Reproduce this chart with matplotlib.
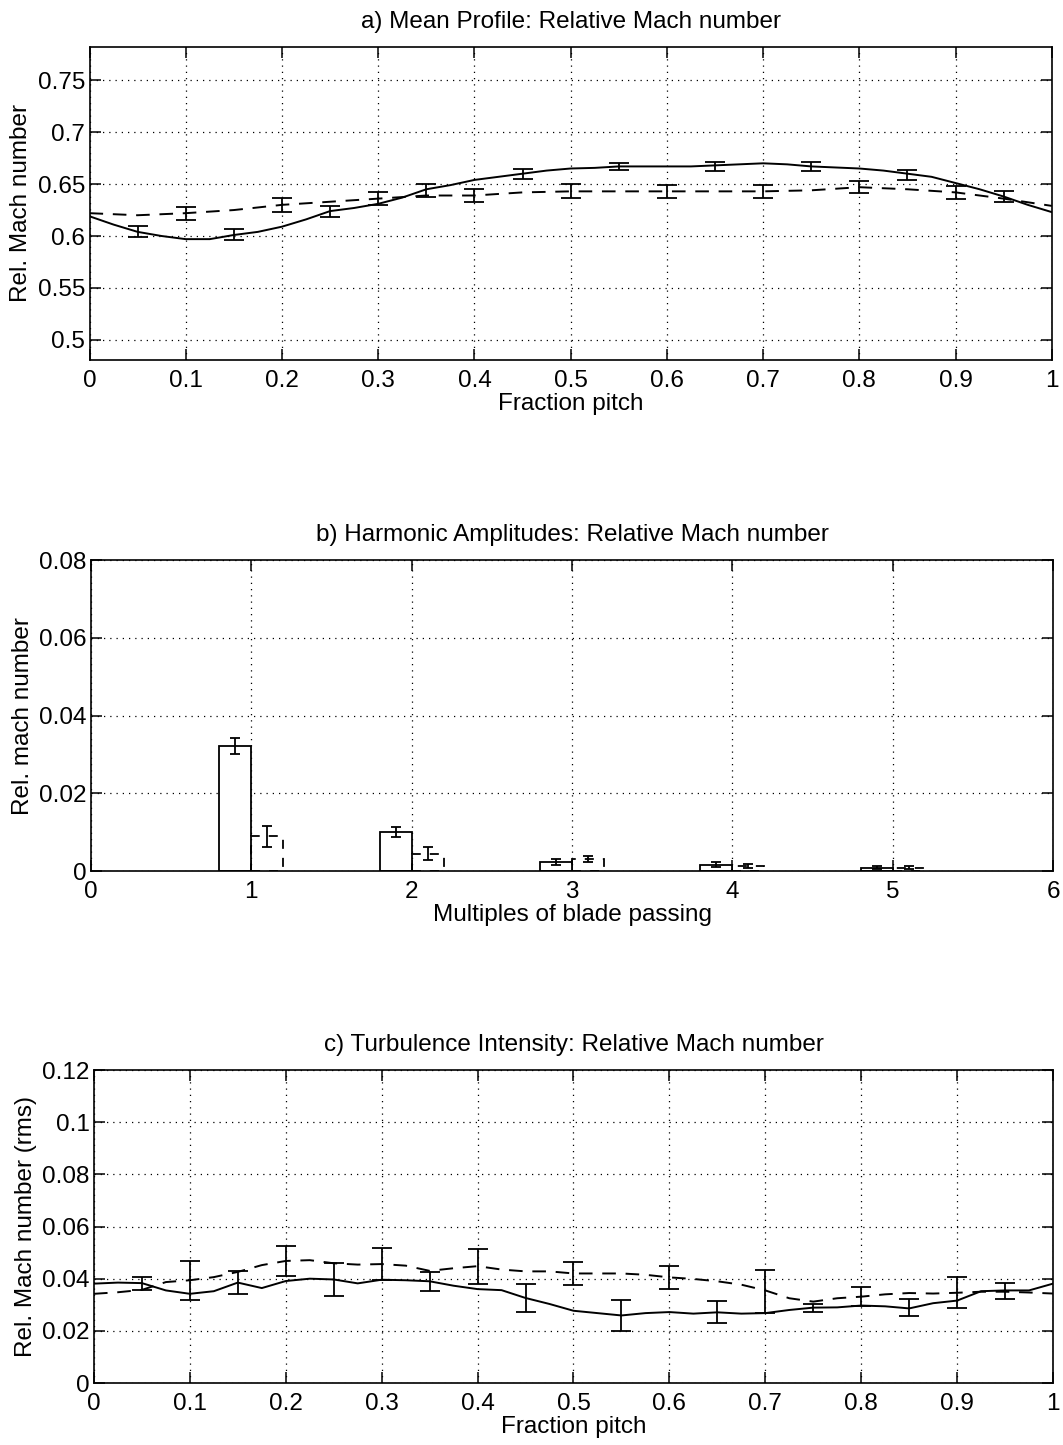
import numpy as np
import matplotlib
matplotlib.use("Agg")
import matplotlib.pyplot as plt

plt.rcParams['font.family'] = ['Liberation Sans', 'DejaVu Sans']
plt.rcParams['font.size'] = 17.5
plt.rcParams['axes.titlesize'] = 17.5

# =========================================================
# a) mean profile data (fraction pitch vs rel. Mach number)
# =========================================================
pitch_a = [0, 0.025, 0.05, 0.075, 0.1, 0.125, 0.15, 0.175, 0.2, 0.225, 0.25,
           0.275, 0.3, 0.325, 0.35, 0.375, 0.4, 0.425, 0.45, 0.475, 0.5,
           0.525, 0.55, 0.575, 0.6, 0.625, 0.65, 0.675, 0.7, 0.725, 0.75,
           0.775, 0.8, 0.825, 0.85, 0.875, 0.9, 0.925, 0.95, 0.975, 1.0]
mach_solid = [0.619, 0.611, 0.604, 0.600, 0.597, 0.597, 0.601, 0.604, 0.609, 0.616, 0.624,
              0.627, 0.631, 0.637, 0.645, 0.649, 0.654, 0.657, 0.660, 0.663, 0.665,
              0.6656, 0.667, 0.667, 0.667, 0.667, 0.668, 0.669, 0.670, 0.669, 0.667,
              0.666, 0.665, 0.663, 0.660, 0.657, 0.651, 0.645, 0.638, 0.630, 0.623]

pitch_a_dash = [0, 0.05, 0.1, 0.15, 0.2, 0.25, 0.3, 0.35, 0.4, 0.45, 0.5,
                0.55, 0.6, 0.65, 0.7, 0.75, 0.8, 0.85, 0.9, 0.95, 1.0]
mach_dash = [0.622, 0.620, 0.622, 0.625, 0.630, 0.633, 0.636, 0.639, 0.639, 0.642, 0.643,
             0.643, 0.643, 0.643, 0.643, 0.644, 0.647, 0.645, 0.642, 0.636, 0.629]

eb_a_solid_x = [0.05, 0.15, 0.25, 0.35, 0.45, 0.55, 0.65, 0.75, 0.85, 0.95]
eb_a_solid_y = [0.604, 0.601, 0.624, 0.644, 0.660, 0.667, 0.667, 0.667, 0.659, 0.638]
eb_a_solid_err = [0.0053, 0.0053, 0.0053, 0.006, 0.0048, 0.0037, 0.004, 0.0043, 0.0048, 0.0051]

eb_a_dash_x = [0.1, 0.2, 0.3, 0.4, 0.5, 0.6, 0.7, 0.8, 0.9]
eb_a_dash_y = [0.622, 0.630, 0.636, 0.639, 0.643, 0.643, 0.643, 0.647, 0.642]
eb_a_dash_err = [0.0061, 0.0067, 0.006, 0.006, 0.0067, 0.006, 0.006, 0.006, 0.006]

# =========================================================
# b) harmonic amplitudes
# =========================================================
harmonic = [1, 2, 3, 4, 5]
amp_solid = [0.0322, 0.0100, 0.0024, 0.0016, 0.0008]
amp_solid_err = [0.0020, 0.0013, 0.0008, 0.0006, 0.0004]
amp_dash = [0.0089, 0.0045, 0.0030, 0.0012, 0.0008]
amp_dash_err = [0.0026, 0.0017, 0.0008, 0.0005, 0.0004]

# =========================================================
# c) turbulence intensity
# =========================================================
pitch_c = pitch_a
rms_solid = [0.0381, 0.0385, 0.0383, 0.0355, 0.0342, 0.0352, 0.0385, 0.0364, 0.0391, 0.0400, 0.0397,
             0.0382, 0.0396, 0.0394, 0.0390, 0.0373, 0.0360, 0.0356, 0.0326, 0.0303, 0.0277,
             0.0268, 0.0259, 0.0268, 0.0272, 0.0266, 0.0271, 0.0266, 0.0268, 0.0280, 0.0289,
             0.0290, 0.0297, 0.0294, 0.0286, 0.0306, 0.0316, 0.0352, 0.0355, 0.0355, 0.0381]
rms_dash = [0.0342, 0.0348, 0.0357, 0.0387, 0.0394, 0.0406, 0.0426, 0.0452, 0.0468, 0.0471, 0.0459,
            0.0454, 0.0456, 0.0450, 0.0430, 0.0440, 0.0448, 0.0435, 0.0428, 0.0428, 0.0420,
            0.0420, 0.0420, 0.0415, 0.0405, 0.0399, 0.0390, 0.0377, 0.0355, 0.0325, 0.0312,
            0.0325, 0.0331, 0.0340, 0.0345, 0.0343, 0.0346, 0.0350, 0.0350, 0.0347, 0.0343]

eb_c_solid_x = [0.05, 0.15, 0.25, 0.35, 0.45, 0.55, 0.65, 0.75, 0.85, 0.95]
eb_c_solid_y = [0.0383, 0.0385, 0.0397, 0.0390, 0.0326, 0.0259, 0.0271, 0.0289, 0.0290, 0.0353]
eb_c_solid_err = [0.0025, 0.0045, 0.0062, 0.0036, 0.0053, 0.0060, 0.0042, 0.0015, 0.0033, 0.0031]

eb_c_dash_x = [0.1, 0.2, 0.3, 0.4, 0.5, 0.6, 0.7, 0.8, 0.9]
eb_c_dash_y = [0.0394, 0.0468, 0.0456, 0.0446, 0.0420, 0.0405, 0.0350, 0.0331, 0.0346]
eb_c_dash_err = [0.0075, 0.0059, 0.0060, 0.0066, 0.0044, 0.0043, 0.0082, 0.0036, 0.0060]

pitch_ticks = ['0', '0.1', '0.2', '0.3', '0.4', '0.5', '0.6', '0.7', '0.8', '0.9', '1']

DASH = (7, 5)
EB = dict(fmt='none', ecolor='black', elinewidth=1.3, capthick=1.3)


def style_axes(ax):
    ax.grid(True, color='black', linestyle=(0, (1, 4)), linewidth=0.9)
    ax.set_axisbelow(True)
    ax.tick_params(direction='in', top=True, right=True, length=8, width=1.1)
    ax.tick_params(axis='x', pad=7)
    ax.tick_params(axis='y', pad=3)
    for s in ax.spines.values():
        s.set_linewidth(1.2)


fig = plt.figure(figsize=(10.63, 14.45), dpi=100)

# ===== a) Mean profile =====
ax = fig.add_axes([0.0842, 0.7509, 0.9053, 0.2166])
ax.plot(pitch_a, mach_solid, color='black', lw=1.4)
ax.plot(pitch_a_dash, mach_dash, color='black', lw=1.4, dashes=DASH)
ax.errorbar(eb_a_solid_x, eb_a_solid_y, yerr=eb_a_solid_err, capsize=7, **EB)
ax.errorbar(eb_a_dash_x, eb_a_dash_y, yerr=eb_a_dash_err, capsize=7, **EB)
ax.set_xlim(0, 1); ax.set_ylim(0.4807, 0.782)
ax.set_xticks(np.arange(0, 1.01, 0.1))
ax.set_xticklabels(pitch_ticks)
ax.set_yticks([0.5, 0.55, 0.6, 0.65, 0.7, 0.75])
ax.set_yticklabels(['0.5', '0.55', '0.6', '0.65', '0.7', '0.75'])
style_axes(ax)
ax.set_title("a) Mean Profile: Relative Mach number", pad=14)
ax.set_xlabel("Fraction pitch", labelpad=1)
ax.set_ylabel("Rel. Mach number", labelpad=4)

# ===== b) Harmonic amplitudes =====
ax = fig.add_axes([0.0856, 0.3972, 0.9050, 0.2152])
h = np.array(harmonic)
ax.bar(h - 0.1, amp_solid, width=0.2, facecolor='white', edgecolor='black', linewidth=1.3)
ax.bar(h + 0.1, amp_dash, width=0.2, facecolor='none', edgecolor='black', linewidth=1.3,
       linestyle=(0, (5, 5)))
ax.errorbar(h - 0.1, amp_solid, yerr=amp_solid_err, capsize=3.5, **EB)
ax.errorbar(h + 0.1, amp_dash, yerr=amp_dash_err, capsize=3.5, **EB)
ax.set_xlim(0, 6); ax.set_ylim(0, 0.08)
ax.set_xticks(range(7))
ax.set_yticks([0, 0.02, 0.04, 0.06, 0.08])
ax.set_yticklabels(['0', '0.02', '0.04', '0.06', '0.08'])
style_axes(ax)
ax.set_title("b) Harmonic Amplitudes: Relative Mach number", pad=14)
ax.set_xlabel("Multiples of blade passing", labelpad=1)
ax.set_ylabel("Rel. mach number", labelpad=4)

# ===== c) Turbulence intensity =====
ax = fig.add_axes([0.0884, 0.0429, 0.9022, 0.2166])
ax.plot(pitch_c, rms_solid, color='black', lw=1.4)
ax.plot(pitch_c, rms_dash, color='black', lw=1.4, dashes=DASH)
ax.errorbar(eb_c_solid_x, eb_c_solid_y, yerr=eb_c_solid_err, capsize=7, **EB)
ax.errorbar(eb_c_dash_x, eb_c_dash_y, yerr=eb_c_dash_err, capsize=7, **EB)
ax.set_xlim(0, 1); ax.set_ylim(0, 0.12)
ax.set_xticks(np.arange(0, 1.01, 0.1))
ax.set_xticklabels(pitch_ticks)
ax.set_yticks([0, 0.02, 0.04, 0.06, 0.08, 0.1, 0.12])
ax.set_yticklabels(['0', '0.02', '0.04', '0.06', '0.08', '0.1', '0.12'])
style_axes(ax)
ax.set_title("c) Turbulence Intensity: Relative Mach number", pad=14)
ax.set_xlabel("Fraction pitch", labelpad=1)
ax.set_ylabel("Rel. Mach number (rms)", labelpad=4)

fig.savefig("out.png", dpi=100)
